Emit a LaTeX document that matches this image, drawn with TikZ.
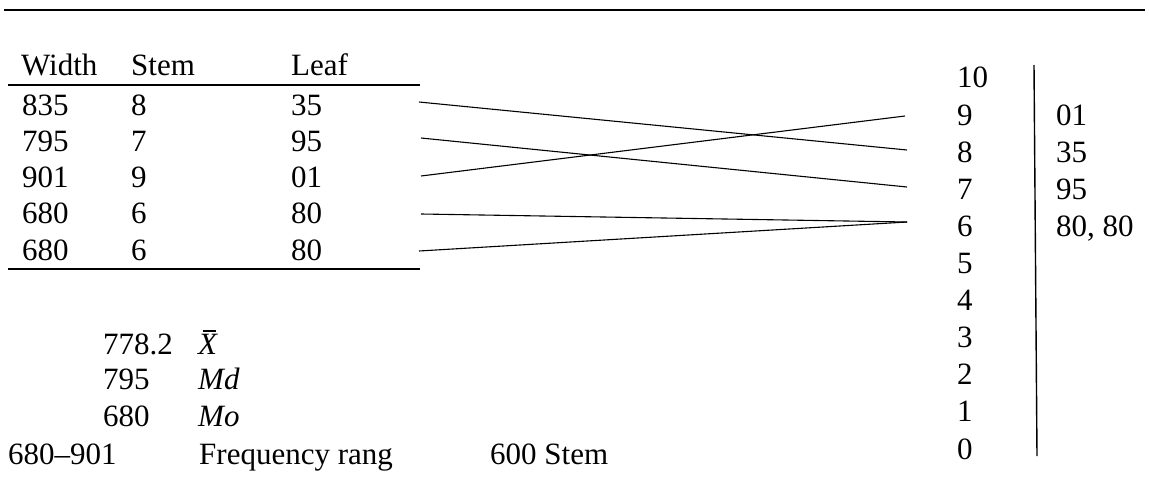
\documentclass[tikz,border=0pt]{standalone}
\usepackage{fontspec}
\setmainfont{Liberation Serif}
\newcommand{\xbarsym}{\makebox[0pt][l]{\hspace{0.14em}\raisebox{0.72em}{\rule{0.42em}{0.045em}}}{\itshape X}}
\begin{document}
\begin{tikzpicture}[x=1pt,y=-1pt,
  txt/.style={anchor=base west,inner sep=0pt,font=\fontsize{31}{37}\selectfont},
  rulebar/.style={line width=2pt},
  conn/.style={line width=1.1pt},
  stemline/.style={line width=1.4pt}]
\useasboundingbox (0,0) rectangle (1149,487);
% top rule
\coordinate (tl) at (4,10);
\coordinate (tr) at (1145,10);
\draw[rulebar] (tl) -- (tr);
% table header
\node[txt] (hw) at (21,76) {Width};
\node[txt] (hs) at (131,76) {Stem};
\node[txt] (hl) at (291,76) {Leaf};
\coordinate (r1a) at (8,85);
\coordinate (r1b) at (420,85);
\draw[rulebar] (r1a) -- (r1b);
% rows
\foreach \w/\s/\l/\y/\n in {835/8/35/115/1,795/7/95/151/2,901/9/01/187/3,680/6/80/223/4,680/6/80/260/5}{
  \node[txt] (w\n) at (22,\y) {\w};
  \node[txt] (s\n) at (131,\y) {\s};
  \node[txt] (l\n) at (291,\y) {\l};
}
\coordinate (r2a) at (8,269);
\coordinate (r2b) at (420,269);
\draw[rulebar] (r2a) -- (r2b);
% connectors
\coordinate (c1) at (419,102);
\coordinate (c2) at (421,138);
\coordinate (c3) at (421,176);
\coordinate (c4) at (421,214);
\coordinate (c5) at (419,251);
\coordinate (e9) at (905,116);
\coordinate (e8) at (907,150);
\coordinate (e7) at (907,187);
\coordinate (e6) at (907,222);
\draw[conn] (c1) -- (e8);
\draw[conn] (c2) -- (e7);
\draw[conn] (c3) -- (e9);
\draw[conn] (c4) -- (e6);
\draw[conn] (c5) -- (e6);
% stem and leaf display
\foreach \k in {0,...,10}{
  \pgfmathsetmacro{\yy}{88+37.1*(10-\k)}
  \node[txt] (st\k) at (957,\yy) {\k};
}
\coordinate (vt) at (1034,65);
\coordinate (vb) at (1037,456);
\draw[stemline] (vt) -- (vb);
\node[txt] (lf9) at (1056,125.1) {01};
\node[txt] (lf8) at (1056,162.2) {35};
\node[txt] (lf7) at (1056,199.3) {95};
\node[txt] (lf6) at (1056,236.4) {80, 80};
% statistics
\node[txt] (m1) at (103,354) {778.2};
\node[txt] (m1s) at (198,354) {\xbarsym};
\node[txt] (m2) at (103,389) {795};
\node[txt] (m2s) at (198,389) {\itshape Md};
\node[txt] (m3) at (103,426) {680};
\node[txt] (m3s) at (198,426) {\itshape Mo};
\node[txt] (rg) at (8,464) {680--901};
\node[txt] (fr) at (199,464) {Frequency rang};
\node[txt] (ss) at (490,464) {600 Stem};
\end{tikzpicture}
\end{document}
